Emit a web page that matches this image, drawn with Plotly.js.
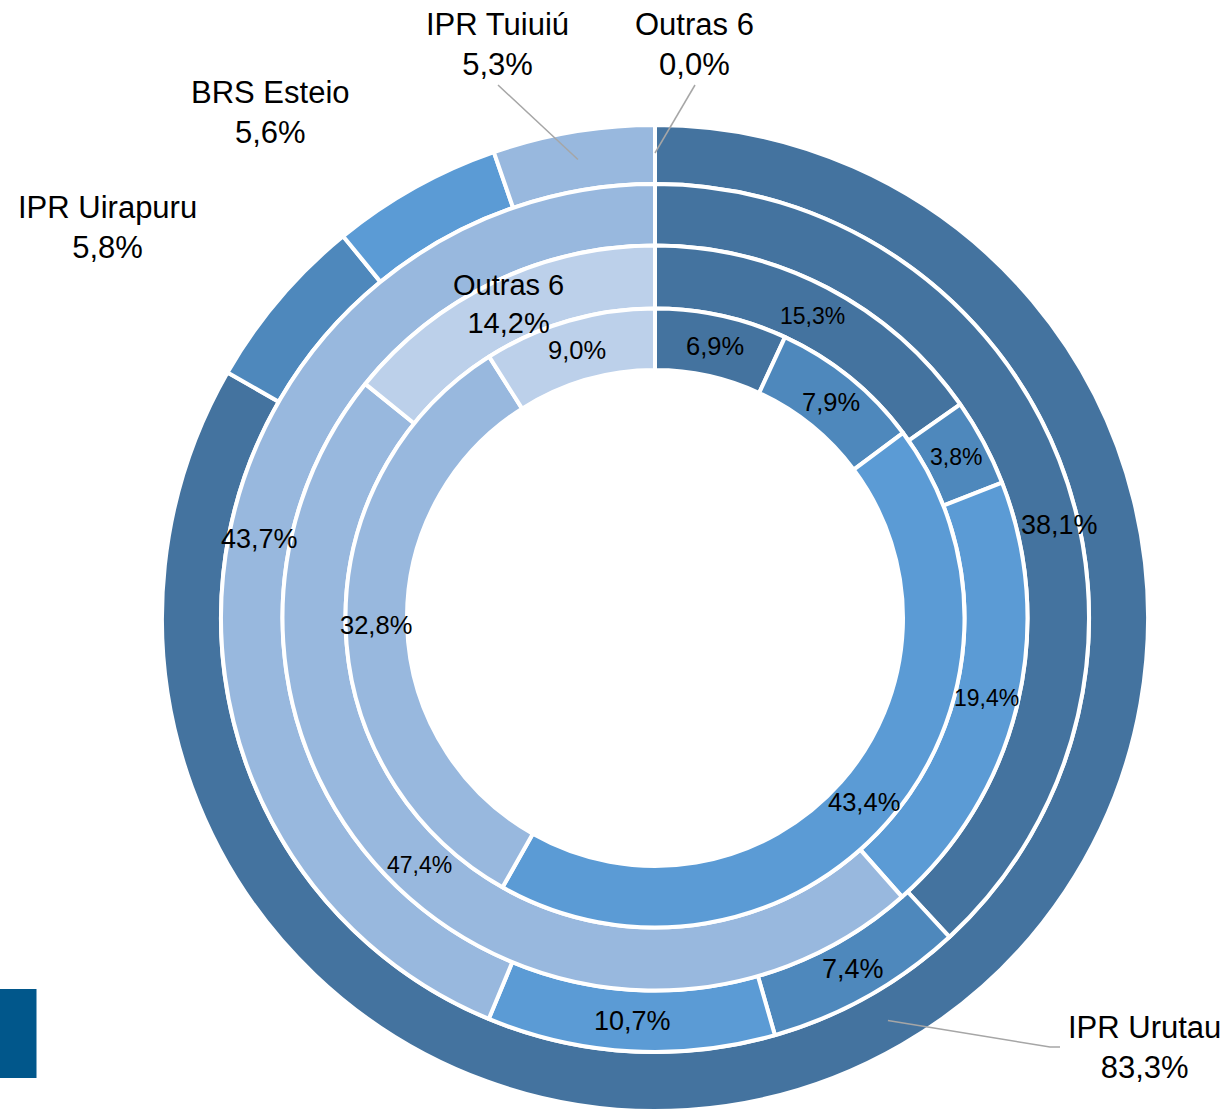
<!DOCTYPE html>
<html>
<head>
<meta charset="utf-8">
<script src="https://cdn.plot.ly/plotly-3.0.1.min.js"></script>
<style>
html,body{margin:0;padding:0;background:#fff;overflow:hidden}
#chart{width:1225px;height:1111px}
</style>
</head>
<body>
<div id="chart"></div>
<script>
// ---- data ----
const categories = ['IPR Urutau', 'IPR Uirapuru', 'BRS Esteio', 'IPR Tuiuiú', 'Outras 6'];
const ring1 = [83.3, 5.8, 5.6, 5.3, 0.0];   // outer ring
const ring2 = [38.1, 7.4, 10.7, 43.7, 0.0];
const ring3 = [15.3, 3.8, 19.4, 47.4, 14.2];
const ring4 = [6.9, 7.9, 43.4, 32.8, 9.0];  // inner ring
const colors = ['#44739f', '#4e88bc', '#5b9bd5', '#98b8de', '#bcd0ea'];

// ---- geometry / style ----
const W = 1225, H = 1111, CX = 655, CY = 618;
const FONT = 'Liberation Sans, Arial, sans-serif';
const rings = [
  {values: ring1, rOut: 493,   rIn: 434,   font: 31},
  {values: ring2, rOut: 434,   rIn: 372.5, font: 27},
  {values: ring3, rOut: 372.5, rIn: 309.5, font: 23},
  {values: ring4, rOut: 309.5, rIn: 248,   font: 25.5}
];

const fmt = v => v.toFixed(1).replace('.', ',') + '%';
function midAngle(values, k) {
  const tot = values.reduce((s, v) => s + v, 0);
  let c = 0;
  for (let j = 0; j < k; j++) c += values[j];
  return (c + values[k] / 2) / tot * 360;
}
function toPx(angDeg, r) {
  const a = angDeg * Math.PI / 180;
  return [CX + r * Math.sin(a), CY - r * Math.cos(a)];
}
const px2paper = p => [p[0] / W, 1 - p[1] / H];

// ---- pie traces ----
const traces = rings.map(rg => ({
  type: 'pie',
  values: rg.values,
  labels: categories,
  sort: false,
  direction: 'clockwise',
  rotation: 0,
  hole: rg.rIn / rg.rOut,
  marker: {colors: colors, line: {color: '#ffffff', width: 4}},
  textinfo: 'none',
  hoverinfo: 'label+percent',
  showlegend: false,
  domain: {
    x: [(CX - rg.rOut) / W, (CX + rg.rOut) / W],
    y: [(H - CY - rg.rOut) / H, (H - CY + rg.rOut) / H]
  }
}));

// ---- labels ----
const annotations = [];
const shapes = [];

// inner rings: label at slice middle (with a few placement overrides)
const overrides = {'1-0': {ang: 77, r: 415}, '2-4': {ang: 335, r: 347}};
const withName = {'2-4': true};
for (let i = 1; i < rings.length; i++) {
  const rg = rings[i];
  rg.values.forEach((v, k) => {
    if (v <= 0) return;
    const key = i + '-' + k;
    let ang = midAngle(rg.values, k), r = (rg.rOut + rg.rIn) / 2;
    if (overrides[key]) { ang = overrides[key].ang; r = overrides[key].r; }
    const p = px2paper(toPx(ang, r));
    const named = withName[key];
    annotations.push({
      xref: 'paper', yref: 'paper', x: p[0], y: p[1],
      xanchor: 'center', yanchor: 'middle', showarrow: false,
      text: named ? categories[k] + '<br>' + fmt(v) : fmt(v),
      font: {family: FONT, size: named ? 29 : rg.font, color: '#000'}
    });
  });
}

// outer ring: labels outside with leader lines
const outerTextPx = [[1144, 1047], [107.5, 228], [270, 113], [497, 44], [694.5, 44]];
const outerLeaderTail = {0: [[1060, 1047], [1050, 1047]], 3: [[498, 85]], 4: [[695, 85]]};
ring1.forEach((v, k) => {
  const p = px2paper(outerTextPx[k]);
  annotations.push({
    xref: 'paper', yref: 'paper', x: p[0], y: p[1],
    xanchor: 'center', yanchor: 'middle', showarrow: false, align: 'center',
    text: categories[k] + '<br>' + fmt(v),
    font: {family: FONT, size: 31, color: '#000'}
  });
  if (outerLeaderTail[k]) {
    const tip = px2paper(toPx(midAngle(ring1, k), 465));
    const pts = outerLeaderTail[k].map(px2paper).concat([tip]);
    const path = pts.map((q, j) => (j ? 'L' : 'M') + q[0] + ',' + q[1]).join(' ');
    shapes.push({type: 'path', xref: 'paper', yref: 'paper', path: path,
                 line: {color: '#a6a6a6', width: 1.5}});
  }
});

// small legend swatch remnant at bottom left
shapes.push({type: 'rect', xref: 'paper', yref: 'paper',
  x0: 0, x1: 36.5 / W, y0: 1 - 1078 / H, y1: 1 - 989 / H,
  fillcolor: '#01578b', line: {width: 0}});

const layout = {
  width: W, height: H,
  margin: {l: 0, r: 0, t: 0, b: 0, pad: 0},
  paper_bgcolor: '#ffffff', plot_bgcolor: '#ffffff',
  showlegend: false,
  font: {family: FONT, color: '#000'},
  annotations: annotations,
  shapes: shapes
};

Plotly.newPlot('chart', traces, layout, {displayModeBar: false, staticPlot: true});
</script>
</body>
</html>
